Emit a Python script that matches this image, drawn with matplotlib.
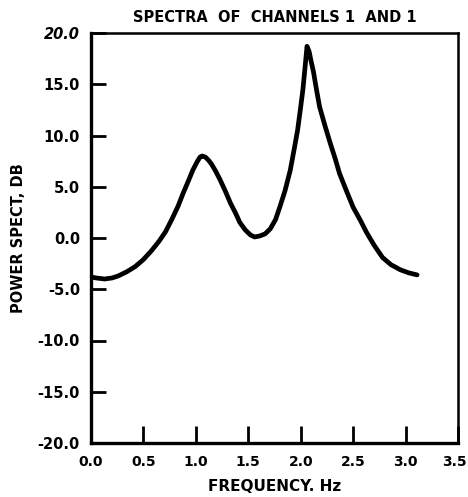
import matplotlib
matplotlib.use("Agg")
import matplotlib.pyplot as plt
import matplotlib.transforms as mtransforms

# values
freq_hz = [0.00, 0.05, 0.13, 0.20, 0.26, 0.34, 0.42, 0.50, 0.58, 0.65, 0.71, 0.77,
           0.83, 0.88, 0.93, 0.97, 1.01, 1.04, 1.06, 1.09, 1.12, 1.15, 1.19, 1.23,
           1.28, 1.33, 1.38, 1.42, 1.47, 1.52, 1.56, 1.61, 1.66, 1.71, 1.76, 1.80,
           1.85, 1.90, 1.94, 1.97, 2.00, 2.02, 2.04, 2.06, 2.08, 2.10, 2.12, 2.15,
           2.18, 2.23, 2.28, 2.33, 2.37, 2.44, 2.50, 2.57, 2.63, 2.70, 2.78, 2.86,
           2.95, 3.03, 3.11]
power_db = [-3.8, -3.9, -4.0, -3.9, -3.7, -3.3, -2.8, -2.1, -1.2, -0.3, 0.6, 1.8,
            3.1, 4.4, 5.6, 6.6, 7.4, 7.9, 8.0, 7.9, 7.6, 7.2, 6.5, 5.7,
            4.6, 3.4, 2.4, 1.5, 0.8, 0.3, 0.1, 0.2, 0.4, 0.9, 1.8, 3.0,
            4.6, 6.6, 8.8, 10.5, 12.8, 14.4, 16.5, 18.7, 18.2, 17.2, 16.3, 14.5,
            12.8, 11.0, 9.3, 7.7, 6.3, 4.5, 3.0, 1.7, 0.5, -0.7, -1.9, -2.6,
            -3.1, -3.4, -3.6]

x_ticks = [0.0, 0.5, 1.0, 1.5, 2.0, 2.5, 3.0, 3.5]
y_ticks = [-20.0, -15.0, -10.0, -5.0, 0.0, 5.0, 10.0, 15.0, 20.0]

plt.rcParams["font.family"] = ["DejaVu Sans"]
plt.rcParams["font.weight"] = "bold"

fig = plt.figure(figsize=(4.68, 4.97), dpi=100)
ax = fig.add_axes([91 / 468, 1 - 443 / 497, (458 - 91) / 468, (443 - 33) / 497])

ax.plot(freq_hz, power_db, color="black", linewidth=3.4,
        solid_capstyle="round", solid_joinstyle="round")

ax.set_xlim(0.0, 3.5)
ax.set_ylim(-20.0, 20.0)
ax.set_xticks(x_ticks)
ax.set_yticks(y_ticks)
ax.set_xticklabels(["%.1f" % v for v in x_ticks])
ax.set_yticklabels(["%.1f" % v for v in y_ticks])
ax.yaxis.get_ticklabels()[-1].set_style("italic")

ax.tick_params(axis="x", direction="in", length=12, width=2, pad=9,
               labelsize=10, top=False)
ax.tick_params(axis="y", direction="in", length=11, width=2, pad=8,
               labelsize=10.5, right=False)

# keep the last x label inside the figure edge
last = ax.xaxis.get_ticklabels()[-1]
last.set_transform(last.get_transform() +
                   mtransforms.ScaledTranslation(-4 / 100, 0, fig.dpi_scale_trans))

for side in ["left", "bottom"]:
    ax.spines[side].set_linewidth(2.4)
for side in ["top", "right"]:
    ax.spines[side].set_linewidth(1.8)

ax.set_title("SPECTRA  OF  CHANNELS 1  AND 1", fontsize=10.5, fontweight="bold", pad=8)
ax.set_xlabel("FREQUENCY. Hz", fontsize=11, fontweight="bold", labelpad=7)
ax.set_ylabel("POWER SPECT, DB", fontsize=10.5, fontweight="bold", labelpad=8)

fig.savefig("out.png", dpi=100)
